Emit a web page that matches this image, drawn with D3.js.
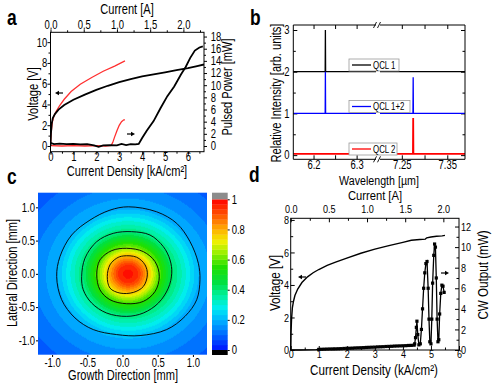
<!DOCTYPE html>
<html>
<head>
<meta charset="utf-8">
<script src="https://cdn.jsdelivr.net/npm/d3@7"></script>
<style>
  body { margin: 0; background: #fff; }
  svg { display: block; font-family: "Liberation Sans", Arial, sans-serif; }
</style>
</head>
<body>
<svg id="fig" width="493" height="389"></svg>
<script>
// ---- panel a: pulsed voltage / power vs current density
const aVoltJ = [0, 0.02, 0.05, 0.1, 0.2, 0.35, 0.6, 1.0, 1.5, 2.0, 2.5, 3.0, 3.5, 4.0, 4.5, 5.0, 5.5, 6.0, 6.4, 6.7]
const aVolt = [0, 1.2, 2.1, 2.7, 3.1, 3.5, 3.95, 4.45, 4.95, 5.4, 5.8, 6.15, 6.45, 6.7, 6.9, 7.1, 7.3, 7.5, 7.7, 7.85]
const aVoltRedJ = [0, 0.03, 0.08, 0.15, 0.25, 0.4, 0.6, 0.9, 1.3, 1.8, 2.3, 2.8, 3.25]
const aVoltRed = [0, 1.3, 2.3, 2.9, 3.35, 3.9, 4.5, 5.25, 5.95, 6.6, 7.2, 7.7, 8.2]
const aPowJ = [0, 0.15, 0.4, 0.7, 1.0, 1.3, 1.6, 1.9, 2.1, 2.3, 2.6, 2.9, 3.1, 3.3, 3.5, 3.7, 3.85, 4.0, 4.2, 4.5, 4.8, 5.1, 5.4, 5.7, 5.9, 6.1, 6.3, 6.5, 6.65]
const aPow = [0.5, 0.3, 0.4, 0.3, 0.35, 0.25, 0.3, 0.1, -0.15, 0.1, 0.15, 0.1, 0.35, 0.15, 0.3, 0.25, 0.35, 1.3, 2.5, 4.1, 6.2, 8.2, 9.8, 11.8, 13.0, 14.5, 15.7, 16.2, 16.4]
const aPowRedJ = [0, 0.5, 1.0, 1.5, 2.0, 2.4, 2.65, 2.72, 2.8, 2.9, 3.0, 3.1, 3.2, 3.25]
const aPowRed = [0.05, 0.0, 0.05, 0.0, 0.05, 0.0, 0.1, 0.6, 1.5, 2.5, 3.4, 4.0, 4.3, 4.3]

// ---- panel b: spectra (left / right of the axis break)
const bWl1 = [6.153, 6.2270, 6.2275, 6.2280, 6.345, 7.202, 7.389]
const bInt1 = [2, 2, 3, 2, 2, 2, 2]
const bWl12 = [6.153, 6.2270, 6.2275, 6.2280, 6.345, 7.202, 7.2745, 7.275, 7.2755, 7.389]
const bInt12 = [1, 1, 2, 1, 1, 1, 1, 1.87, 1, 1]
const bWl2 = [6.153, 6.345, 7.202, 7.2745, 7.275, 7.2755, 7.389]
const bInt2 = [0.03, 0.03, 0.03, 0.03, 0.89, 0.03, 0.03]
const bNames = ['QCL 1', 'QCL 1+2', 'QCL 2']
const bColors = ['#000', '#0000ff', '#ff0000']

// ---- panel c: far-field map, radial profile + contour lines
const cProfR = [0, 0.15, 0.27, 0.43, 0.64, 1.0, 1.3, 1.75]
const cProfI = [1.0, 0.93, 0.8, 0.6, 0.4, 0.2, 0.14, 0.08]
const cCenter = [0.08, 0.0]
const cont02X = [0.083, 0.485, 0.77, 0.959, 1.077, 1.10, 1.054, 0.888, 0.627, 0.249, -0.083, -0.415, -0.675, -0.864, -0.935, -0.888, -0.722, -0.462, -0.178]
const cont02Y = [1.008, 0.933, 0.759, 0.484, 0.16, -0.09, -0.389, -0.639, -0.838, -0.928, -0.913, -0.838, -0.663, -0.389, -0.04, 0.259, 0.584, 0.808, 0.958]
const cont04X = [0.13, 0.39, 0.58, 0.675, 0.699, 0.651, 0.509, 0.296, 0.059, -0.225, -0.438, -0.557, -0.58, -0.533, -0.366, -0.131]
const cont04Y = [0.634, 0.584, 0.409, 0.21, 0.01, -0.214, -0.439, -0.589, -0.639, -0.589, -0.439, -0.24, -0.04, 0.235, 0.484, 0.609]
const cont06X = [0.059, 0.296, 0.462, 0.523, 0.462, 0.296, 0.059, -0.178, -0.32, -0.366, -0.32, -0.153]
const cont06Y = [0.384, 0.334, 0.184, -0.04, -0.265, -0.414, -0.449, -0.389, -0.24, -0.015, 0.21, 0.349]
const cont08X = [0.012, 0.201, 0.32, 0.353, 0.296, 0.154, -0.036, -0.178, -0.216, -0.178, -0.083]
const cont08Y = [0.269, 0.25, 0.135, -0.015, -0.19, -0.279, -0.289, -0.214, -0.04, 0.135, 0.235]
const cbStops = [0, 0.1, 0.2, 0.28, 0.36, 0.45, 0.55, 0.65, 0.72, 0.8, 0.9, 1.0]
const cbColors = ['#0010ff', '#0066ff', '#00b4ff', '#00eef0', '#00f0a0', '#00e040', '#20e000', '#a0f000', '#f0f000', '#ffb000', '#ff5000', '#ff0000']
const cbTicks = [0, 0.2, 0.4, 0.6, 0.8, 1]

// ---- panel d: CW voltage / output
const dVoltJ = [0, 0.01, 0.03, 0.06, 0.1, 0.15, 0.25, 0.4, 0.6, 0.8, 1.0, 1.3, 1.6, 2.0, 2.5, 3.0, 3.5, 4.0, 4.3, 4.6, 4.8, 4.85, 5.0, 5.2, 5.4, 5.5]
const dVolt = [0, 1.0, 1.9, 2.6, 3.0, 3.35, 3.75, 4.15, 4.5, 4.75, 4.95, 5.2, 5.4, 5.65, 5.95, 6.2, 6.42, 6.62, 6.75, 6.8, 6.82, 6.9, 6.95, 7.0, 7.02, 7.05]
const dPowJ = [0, 0.3, 0.6, 0.9, 1.0, 1.1, 1.2, 1.3, 1.4, 1.5, 1.6, 1.7, 1.8, 1.9, 2.0, 2.1, 2.2, 2.3, 2.4, 2.5, 2.6, 2.7, 2.8, 2.9, 3.0, 3.1, 3.2, 3.3, 3.4, 3.5, 3.6, 3.7, 3.8, 3.9, 4.0, 4.1, 4.2, 4.3, 4.4,
  4.42, 4.45, 4.48, 4.5, 4.53, 4.57, 4.62, 4.66, 4.7, 4.74, 4.78, 4.82, 4.86, 4.9, 4.93, 4.96, 5.0, 5.03, 5.06, 5.1, 5.13, 5.16, 5.19, 5.22, 5.25, 5.28, 5.31, 5.35, 5.39, 5.43, 5.47]
const dPow = [0, 0, 0.02, 0.04, 0.06, 0.07, 0.08, 0.09, 0.1, 0.1, 0.11, 0.12, 0.13, 0.15, 0.16, 0.17, 0.18, 0.2, 0.21, 0.22, 0.23, 0.25, 0.26, 0.27, 0.28, 0.3, 0.31, 0.32, 0.34, 0.35, 0.36, 0.38, 0.39, 0.4, 0.41, 0.42, 0.44, 0.45, 0.47,
  0.6, 1.2, 2.2, 2.8, 1.5, 0.5, 0.6, 2.0, 4.0, 6.0, 7.5, 8.4, 8.6, 6.0, 3.0, 0.8, 0.6, 3.0, 6.5, 9.2, 10.3, 10.0, 7.0, 3.0, 0.8, 1.0, 3.5, 5.5, 6.3, 6.2, 5.6]

const svg = d3.select('#fig')
const SX = 0.79   // figure text is horizontally squeezed

function txt(x, y, s, size, o = {}) {
  return svg.append('text')
    .attr('transform', `translate(${x},${y})` + (o.rot ? ` rotate(${o.rot})` : '') + ` scale(${o.sx || SX},1)`)
    .attr('font-size', size)
    .attr('font-weight', o.bold ? 'bold' : null)
    .attr('text-anchor', o.anchor || 'middle')
    .text(s)
}

function axisG(gen, tx, ty, size = 12) {
  const g = svg.append('g').attr('transform', `translate(${tx},${ty})`).call(gen)
  g.select('.domain').remove()
  g.attr('font-family', null).attr('font-size', size)
  g.selectAll('.tick text').attr('transform', `scale(${SX},1)`).attr('fill', '#000')
  g.selectAll('.tick line').attr('stroke', '#000')
  return g
}

function frame(x0, x1, y0, y1) {
  svg.append('rect').attr('x', x0).attr('y', y0).attr('width', x1 - x0).attr('height', y1 - y0)
    .attr('fill', 'none').attr('stroke', '#000').attr('stroke-width', 1)
}

function arrow(x1, y, x2) {
  const dir = Math.sign(x2 - x1)
  svg.append('line').attr('x1', x1).attr('y1', y).attr('x2', x2 - dir * 2).attr('y2', y)
    .attr('stroke', '#000').attr('stroke-width', 1.2)
  svg.append('path').attr('d', `M${x2},${y}L${x2 - dir * 4},${y - 2.2}L${x2 - dir * 4},${y + 2.2}Z`).attr('fill', '#000')
}

const none = () => ''

// ================= panel a
const ax = d3.scaleLinear().domain([0, 6.7]).range([50.5, 204])
const axTop = d3.scaleLinear().domain([0, 2.31]).range([50.5, 204])
const ayV = d3.scaleLinear().domain([-0.55, 10.95]).range([151.7, 32.3])
const ayP = d3.scaleLinear().domain([-0.94, 18.7]).range([151.7, 32.3])

axisG(d3.axisBottom(ax).tickValues(d3.range(0, 7)).tickSize(3).tickPadding(-1.8).tickFormat(d3.format('d')), 0, 151.7)
axisG(d3.axisBottom(ax).tickValues(d3.range(0.5, 6.7, 1)).tickSize(2).tickFormat(none), 0, 151.7)
axisG(d3.axisTop(axTop).tickValues([0, 0.5, 1, 1.5, 2]).tickSize(3).tickPadding(0).tickFormat(d3.format('.1f')), 0, 32.3)
axisG(d3.axisTop(axTop).tickValues([0.25, 0.75, 1.25, 1.75, 2.25]).tickSize(2).tickFormat(none), 0, 32.3)
axisG(d3.axisLeft(ayV).tickValues(d3.range(0, 11, 2)).tickSize(3).tickPadding(1), 50.5, 0)
axisG(d3.axisLeft(ayV).tickValues(d3.range(1, 11, 2)).tickSize(2).tickFormat(none), 50.5, 0)
axisG(d3.axisRight(ayP).tickValues(d3.range(0, 19, 2)).tickSize(3).tickPadding(5.5), 204, 0)
axisG(d3.axisRight(ayP).tickValues(d3.range(1, 18, 2)).tickSize(2).tickFormat(none), 204, 0)

svg.append('clipPath').attr('id', 'clipA').append('rect')
  .attr('x', 50.5).attr('y', 32.3).attr('width', 153.5).attr('height', 119.4)
const aG = svg.append('g').attr('clip-path', 'url(#clipA)')
const lineA = (sy) => d3.line().x(d => ax(d[0])).y(d => sy(d[1]))
aG.append('path').attr('d', lineA(ayP)(d3.zip(aPowRedJ, aPowRed))).attr('fill', 'none').attr('stroke', '#ff3030').attr('stroke-width', 1.3)
aG.append('path').attr('d', lineA(ayV)(d3.zip(aVoltRedJ, aVoltRed))).attr('fill', 'none').attr('stroke', '#ff3030').attr('stroke-width', 1.3)
aG.append('path').attr('d', lineA(ayP)(d3.zip(aPowJ, aPow))).attr('fill', 'none').attr('stroke', '#000').attr('stroke-width', 1.8)
aG.append('path').attr('d', lineA(ayV)(d3.zip(aVoltJ, aVolt))).attr('fill', 'none').attr('stroke', '#000').attr('stroke-width', 1.8)
frame(50.5, 204, 32.3, 151.7)
arrow(63, 93, 55)
arrow(127, 134, 135)

txt(127, 14, 'Current [A]', 14)
txt(127, 175.5, 'Current Density [kA/cm²]', 14)
txt(38, 94, 'Voltage [V]', 14, { rot: -90 })
txt(232, 87, 'Pulsed Power [mW]', 14, { rot: -90 })
txt(7, 25, 'a', 22, { bold: true, anchor: 'start' })

// ================= panel b
const bxL = d3.scaleLinear().domain([6.153, 6.345]).range([293.3, 376])
const bxR = d3.scaleLinear().domain([7.202, 7.389]).range([380, 465])
const by = d3.scaleLinear().domain([-0.1, 3.12]).range([159.3, 25])

const bAxes = [[bxL, [6.2, 6.3], [6.25]], [bxR, [7.25, 7.35], [7.30]]]
bAxes.forEach(([s, maj, mn]) => {
  axisG(d3.axisBottom(s).tickValues(maj).tickSize(-4).tickPadding(1.5).tickFormat(d3.format('.2~f')), 0, 159.3)
  axisG(d3.axisBottom(s).tickValues(mn).tickSize(-4).tickFormat(none), 0, 159.3)
  axisG(d3.axisTop(s).tickValues(maj.concat(mn)).tickSize(-4).tickFormat(none), 0, 25)
})
axisG(d3.axisLeft(by).tickValues([0, 1, 2, 3]).tickSize(-4).tickPadding(4.8).tickFormat(d3.format('d')), 293.3, 0)
axisG(d3.axisLeft(by).tickValues([0.5, 1.5, 2.5]).tickSize(-2.5).tickFormat(none), 293.3, 0)
axisG(d3.axisRight(by).tickValues([0, 1, 2, 3]).tickSize(-4).tickFormat(none), 465, 0)
axisG(d3.axisRight(by).tickValues([0.5, 1.5, 2.5]).tickSize(-2.5).tickFormat(none), 465, 0)

const bSeries = [[bWl1, bInt1], [bWl12, bInt12], [bWl2, bInt2]]
bSeries.forEach(([wl, it], k) => {
  const pts = d3.zip(wl, it)
  const left = pts.filter(d => d[0] < 7), right = pts.filter(d => d[0] > 7)
  const w = k === 2 ? 1.8 : 1.3
  svg.append('path').attr('d', d3.line().x(d => bxL(d[0])).y(d => by(d[1]))(left))
    .attr('fill', 'none').attr('stroke', bColors[k]).attr('stroke-width', w)
  svg.append('path').attr('d', d3.line().x(d => bxR(d[0])).y(d => by(d[1]))(right))
    .attr('fill', 'none').attr('stroke', bColors[k]).attr('stroke-width', w)
})
// frame with break
const bBrk = [376, 380]
;[25, 159.3].forEach(y => {
  svg.append('line').attr('x1', 293.3).attr('x2', bBrk[0]).attr('y1', y).attr('y2', y).attr('stroke', '#000')
  svg.append('line').attr('x1', bBrk[1]).attr('x2', 465).attr('y1', y).attr('y2', y).attr('stroke', '#000')
  ;[bBrk[0] - 1, bBrk[1] - 1].forEach(x => {
    svg.append('line').attr('x1', x - 1.5).attr('x2', x + 1.5).attr('y1', y + 3).attr('y2', y - 3)
      .attr('stroke', '#000').attr('stroke-width', 0.9)
  })
})
svg.append('line').attr('x1', 293.3).attr('x2', 293.3).attr('y1', 25).attr('y2', 159.3).attr('stroke', '#000')
svg.append('line').attr('x1', 465).attr('x2', 465).attr('y1', 25).attr('y2', 159.3).attr('stroke', '#000')

// legends
const bLeg = [[349, 59, 50], [349, 100.5, 61], [349, 143, 48]]
bLeg.forEach(([x, y, w], k) => {
  svg.append('rect').attr('x', x).attr('y', y).attr('width', w).attr('height', 12)
    .attr('fill', '#fff').attr('stroke', '#999').attr('stroke-width', 0.8)
  svg.append('line').attr('x1', x + 3).attr('x2', x + 22).attr('y1', y + 6).attr('y2', y + 6)
    .attr('stroke', bColors[k]).attr('stroke-width', 1.3)
  txt(x + 24, y + 9.5, bNames[k], 10, { anchor: 'start' })
})

txt(281, 93, 'Relative Intensity [arb. units]', 14, { rot: -90 })
txt(379, 184.5, 'Wavelength [µm]', 13.5)
txt(250, 25, 'b', 22, { bold: true, anchor: 'start' })

// ================= panel c
const cx = d3.scaleLinear().domain([-1.2, 1.2]).range([38, 207])
const cy = d3.scaleLinear().domain([-1.22, 1.22]).range([355, 192.7])
const prof = d3.scaleLinear().domain(cProfR).range(cProfI).clamp(true)
const cmap = d3.scaleLinear().domain(cbStops).range(cbColors).clamp(true)
const nLev = 30
const qcol = v => cmap(Math.floor(Math.min(v, 0.999) * nLev) / nLev + 0.5 / nLev)

const cw = Math.round(207 - 38), ch = Math.round(355 - 192.7)
const canvas = document.createElement('canvas')
canvas.width = cw; canvas.height = ch
const ctx = canvas.getContext('2d')
const img = ctx.createImageData(cw, ch)
for (let j = 0; j < ch; j++) {
  for (let i = 0; i < cw; i++) {
    const x = cx.invert(38 + i + 0.5), y = cy.invert(192.7 + j + 0.5)
    const r = Math.hypot(x - cCenter[0], (y - cCenter[1]) / 0.97)
    const c = d3.rgb(qcol(prof(r)))
    const p = (j * cw + i) * 4
    img.data[p] = c.r; img.data[p + 1] = c.g; img.data[p + 2] = c.b; img.data[p + 3] = 255
  }
}
ctx.putImageData(img, 0, 0)
svg.append('image').attr('x', 38).attr('y', 192.7).attr('width', cw).attr('height', ch)
  .attr('preserveAspectRatio', 'none').attr('href', canvas.toDataURL())

const contours = [[cont02X, cont02Y], [cont04X, cont04Y], [cont06X, cont06Y], [cont08X, cont08Y]]
contours.forEach(([xs, ys]) => {
  svg.append('path').attr('d', d3.line().x(d => cx(d[0])).y(d => cy(d[1])).curve(d3.curveCatmullRomClosed)(d3.zip(xs, ys)))
    .attr('fill', 'none').attr('stroke', '#000').attr('stroke-width', 0.9)
})

axisG(d3.axisBottom(cx).tickValues([-1, -0.5, 0, 0.5, 1]).tickSize(2).tickPadding(1.2).tickFormat(d3.format('.1f')), 0, 355)
axisG(d3.axisLeft(cy).tickValues([-1, -0.5, 0, 0.5, 1]).tickSize(2).tickPadding(1.8).tickFormat(d3.format('.1f')), 38, 0)
svg.selectAll('text').filter(function () { return this.textContent.startsWith('−') }).text(function () { return '-' + this.textContent.slice(1) })

// colour bar
const cby = d3.scaleLinear().domain([0, 1]).range([350, 199.3])
d3.range(nLev).forEach(k => {
  svg.append('rect').attr('x', 212).attr('width', 15.7)
    .attr('y', cby((k + 1) / nLev)).attr('height', cby(k / nLev) - cby((k + 1) / nLev) + 0.3)
    .attr('fill', qcol(k / nLev))
})
svg.append('rect').attr('x', 212).attr('width', 15.7).attr('y', 192.7).attr('height', cby(1) - 192.7).attr('fill', '#8c8c8c')
svg.append('rect').attr('x', 212).attr('width', 15.7).attr('y', 350).attr('height', 5).attr('fill', '#000')
axisG(d3.axisRight(cby).tickValues(cbTicks).tickSize(2).tickPadding(3).tickFormat(d3.format('~g')), 227.7, 0)

txt(17, 273, 'Lateral Direction [mm]', 14, { rot: -90 })
txt(123, 380, 'Growth Direction [mm]', 14)
txt(7, 184, 'c', 22, { bold: true, anchor: 'start' })

// ================= panel d
const dx = d3.scaleLinear().domain([0, 6]).range([290.7, 459])
const dxTop = d3.scaleLinear().domain([0, 2.205]).range([290.7, 459])
const dyV = d3.scaleLinear().domain([0, 8.1]).range([350, 218.3])
const dyP = d3.scaleLinear().domain([0, 12.8]).range([350, 218.3])

axisG(d3.axisBottom(dx).tickValues(d3.range(0, 7)).tickSize(-4).tickPadding(0).tickFormat(d3.format('d')), 0, 350, 11.5)
axisG(d3.axisBottom(dx).tickValues(d3.range(0.5, 6, 1)).tickSize(-2.5).tickFormat(none), 0, 350)
axisG(d3.axisTop(dxTop).tickValues([0, 0.5, 1, 1.5, 2]).tickSize(-4).tickPadding(5).tickFormat(d3.format('.1f')), 0, 218.3, 11.5)
axisG(d3.axisTop(dxTop).tickValues([0.25, 0.75, 1.25, 1.75]).tickSize(-2.5).tickFormat(none), 0, 218.3)
axisG(d3.axisLeft(dyV).tickValues([0, 2, 4, 6, 8]).tickSize(-4).tickPadding(2.1).tickFormat(d3.format('d')), 290.7, 0, 11.5)
axisG(d3.axisLeft(dyV).tickValues([1, 3, 5, 7]).tickSize(-2.5).tickFormat(none), 290.7, 0)
axisG(d3.axisRight(dyP).tickValues(d3.range(0, 13, 2)).tickSize(-4).tickPadding(2.5).tickFormat(d3.format('d')), 459, 0, 11.5)
axisG(d3.axisRight(dyP).tickValues(d3.range(1, 12, 2)).tickSize(-2.5).tickFormat(none), 459, 0)

const dPts = d3.zip(dPowJ, dPow)
svg.append('path').attr('d', d3.line().x(d => dx(d[0])).y(d => dyV(d[1]))(d3.zip(dVoltJ, dVolt)))
  .attr('fill', 'none').attr('stroke', '#000').attr('stroke-width', 1.4)
svg.append('path').attr('d', d3.line().x(d => dx(d[0])).y(d => dyP(d[1]))(dPts))
  .attr('fill', 'none').attr('stroke', '#000').attr('stroke-width', 1.3)
svg.append('g').selectAll('rect').data(dPts.filter(d => d[0] >= 1)).join('rect')
  .attr('x', d => dx(d[0]) - 1.6).attr('y', d => dyP(d[1]) - 1.6).attr('width', 3.2).attr('height', 3.2).attr('fill', '#000')
frame(290.7, 459, 218.3, 350)
arrow(306, 277, 298)
arrow(441, 273, 449)

txt(375, 199.8, 'Current [A]', 13.5, { sx: 0.83 })
txt(374, 375, 'Current Density (kA/cm²)', 14, { sx: 0.83 })
txt(280, 283, 'Voltage [V]', 14, { rot: -90, sx: 0.83 })
txt(488, 275, 'CW Output (mW)', 14, { rot: -90, sx: 0.83 })
txt(249, 182, 'd', 22, { bold: true, anchor: 'start' })
</script>
</body>
</html>
